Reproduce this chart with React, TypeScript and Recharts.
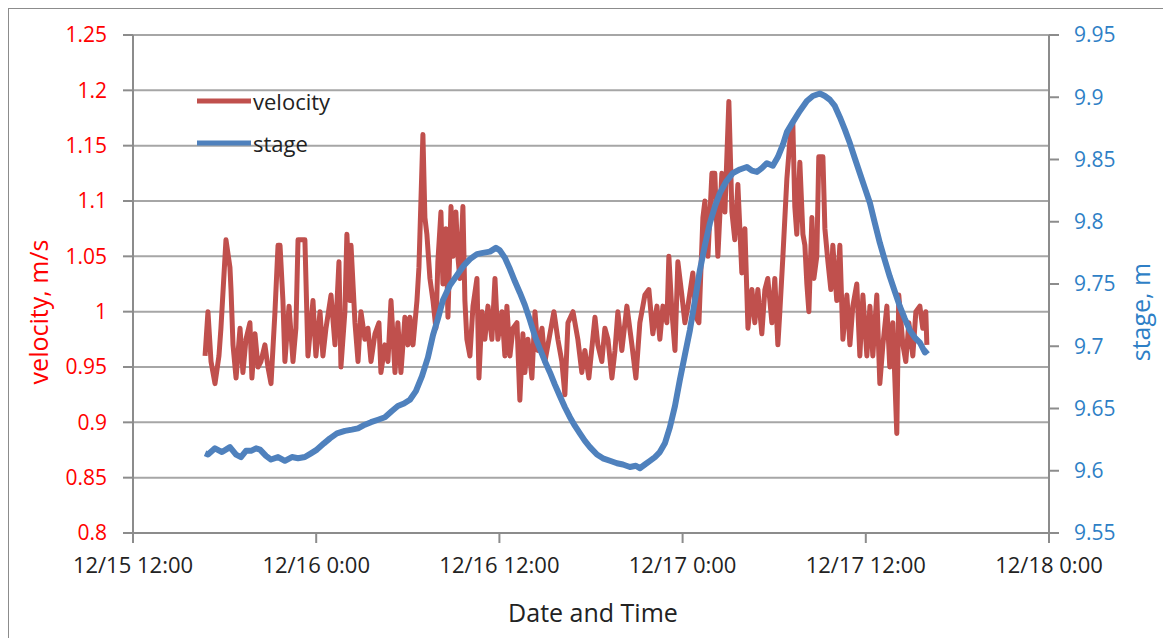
import { LineChart, Line, XAxis, YAxis, CartesianGrid, Legend, Label } from "recharts";

// x axis is hours since 12/15 12:00
const timeTicks = [0, 12, 24, 36, 48, 60];
const timeLabels = ["12/15 12:00", "12/16 0:00", "12/16 12:00", "12/17 0:00", "12/17 12:00", "12/18 0:00"];
const velocityTicks = [0.8, 0.85, 0.9, 0.95, 1, 1.05, 1.1, 1.15, 1.2, 1.25];
const stageTicks = [9.55, 9.6, 9.65, 9.7, 9.75, 9.8, 9.85, 9.9, 9.95];

const velocityHours = [
  4.72, 4.91, 5.11, 5.37, 5.63, 5.76, 6.09, 6.35, 6.42, 6.55, 6.75, 7.01, 7.2, 7.4, 7.66, 7.79, 7.99, 8.19, 8.38, 8.64,
  8.84, 9.04, 9.3, 9.5, 9.63, 9.82, 9.95, 10.22, 10.48, 10.67, 10.81, 11.07, 11.26, 11.46, 11.79, 11.98, 12.25, 12.44,
  12.64, 12.97, 13.23, 13.49, 13.62, 13.88, 14.01, 14.21, 14.28, 14.54, 14.74, 14.93, 15.19, 15.39, 15.59, 15.85, 16.11,
  16.24, 16.5, 16.7, 16.9, 17.16, 17.35, 17.55, 17.81, 18.01, 18.14, 18.34, 18.6, 18.73, 18.99, 19.12, 19.25, 19.45,
  19.65, 19.84, 19.97, 20.17, 20.3, 20.5, 20.63, 20.83, 20.96, 21.15, 21.28, 21.41, 21.61, 21.74, 21.87, 22.07, 22.27,
  22.53, 22.66, 22.86, 23.05, 23.25, 23.51, 23.71, 23.9, 24.17, 24.36, 24.49, 24.69, 24.89, 25.15, 25.34, 25.54, 25.67,
  25.87, 26.13, 26.33, 26.52, 26.79, 26.98, 27.18, 27.57, 27.83, 28.09, 28.29, 28.49, 28.82, 29.14, 29.4, 29.6, 29.86,
  30.26, 30.45, 30.71, 30.91, 31.11, 31.37, 31.57, 31.76, 32.02, 32.35, 32.68, 32.94, 33.2, 33.53, 33.79, 34.05, 34.32,
  34.51, 34.71, 34.97, 35.1, 35.3, 35.5, 35.69, 35.95, 36.15, 36.35, 36.67, 36.87, 37.07, 37.33, 37.46, 37.66, 37.92,
  38.11, 38.31, 38.57, 38.77, 39.03, 39.23, 39.42, 39.62, 39.88, 40.08, 40.28, 40.54, 40.73, 40.93, 41.19, 41.39, 41.58,
  41.85, 42.04, 42.24, 42.37, 42.57, 42.83, 43.03, 43.22, 43.35, 43.48, 43.68, 43.88, 44.01, 44.14, 44.27, 44.47, 44.6,
  44.79, 44.92, 45.19, 45.32, 45.52, 45.71, 45.84, 46.1, 46.3, 46.5, 46.76, 46.96, 47.15, 47.41, 47.61, 47.81, 48.07,
  48.27, 48.46, 48.72, 48.92, 49.12, 49.38, 49.57, 49.77, 50.03, 50.16, 50.43, 50.62, 50.82, 51.08, 51.28, 51.54, 51.73,
  51.93, 52.0,
];
const velocityValues = [
  0.96, 1.0, 0.955, 0.935, 0.96, 0.985, 1.065, 1.04, 1.02, 0.97, 0.94, 0.985, 0.945, 0.975, 0.99, 0.94, 0.98, 0.95, 0.955, 0.97,
  0.95, 0.935, 1.0, 1.06, 1.06, 1.01, 0.955, 1.005, 0.955, 0.985, 1.065, 1.065, 1.065, 0.96, 1.01, 0.96, 1.0, 0.96,
  0.985, 1.015, 0.97, 1.045, 0.95, 1.0, 1.07, 1.01, 1.06, 0.99, 0.955, 1.0, 0.975, 0.985, 0.955, 0.98, 0.99,
  0.945, 0.97, 0.955, 1.01, 0.945, 0.99, 0.945, 0.995, 0.97, 0.995, 0.97, 1.01, 1.04, 1.16, 1.085, 1.07, 1.03,
  1.01, 0.985, 1.045, 1.09, 1.025, 1.075, 0.995, 1.095, 1.05, 1.09, 1.05, 1.03, 1.095, 1.01, 0.975, 0.96, 1.005,
  1.03, 0.94, 1.0, 0.975, 1.005, 0.975, 1.03, 0.975, 1.0, 0.96, 1.005, 0.96, 0.985, 0.99, 0.92, 0.98, 0.945,
  0.975, 0.94, 1.0, 0.965, 0.985, 0.955, 0.97, 1.0, 0.975, 0.955, 0.925, 0.99, 1.0, 0.975, 0.945, 0.965, 0.94,
  0.995, 0.97, 0.955, 0.985, 0.975, 0.94, 0.965, 1.0, 0.965, 1.005, 0.97, 0.94, 0.99, 1.015, 1.02, 0.98, 1.005,
  0.975, 1.005, 0.99, 1.05, 1.0, 0.965, 1.045, 1.015, 0.99, 1.005, 1.035, 0.995, 0.99, 1.085, 1.1, 1.05, 1.125,
  1.125, 1.05, 1.125, 1.09, 1.19, 1.09, 1.065, 1.115, 1.035, 1.075, 0.985, 1.02, 0.99, 1.02, 0.98, 1.02, 1.03,
  0.99, 1.03, 0.97, 1.0, 1.05, 1.12, 1.155, 1.17, 1.095, 1.07, 1.135, 1.07, 1.06, 1.025, 1.0, 1.085, 1.03,
  1.05, 1.14, 1.14, 1.075, 1.045, 1.02, 1.06, 1.01, 1.06, 0.975, 1.015, 0.97, 1.005, 1.025, 0.96, 1.015, 0.96,
  1.005, 0.96, 1.015, 0.935, 0.97, 1.005, 0.95, 0.99, 0.89, 1.015, 0.97, 0.955, 0.99, 0.96, 1.0, 1.005, 0.985,
  1.0, 0.97,
];

const stageHours = [
  4.72, 4.91, 5.37, 5.83, 6.35, 6.75, 7.07, 7.4, 7.73, 8.06, 8.32, 8.71, 9.04, 9.5, 9.95, 10.41, 10.81, 11.26, 11.66,
  12.05, 12.51, 12.9, 13.36, 13.88, 14.34, 14.74, 15.19, 15.59, 16.05, 16.5, 16.96, 17.35, 17.75, 18.14, 18.53, 18.93,
  19.32, 19.65, 19.97, 20.3, 20.76, 21.22, 21.68, 22.07, 22.53, 22.92, 23.38, 23.77, 24.03, 24.36, 24.69, 25.02, 25.34,
  25.67, 26.0, 26.33, 26.65, 26.98, 27.31, 27.64, 27.96, 28.29, 28.62, 28.95, 29.27, 29.6, 29.93, 30.39, 30.78, 31.24,
  31.7, 32.09, 32.55, 32.94, 33.2, 33.53, 33.86, 34.19, 34.51, 34.84, 35.17, 35.5, 35.82, 36.15, 36.48, 36.81, 37.13,
  37.46, 37.79, 38.11, 38.44, 38.84, 39.29, 39.75, 40.21, 40.54, 40.87, 41.19, 41.52, 41.91, 42.24, 42.57, 42.83, 43.22,
  43.68, 44.14, 44.53, 44.99, 45.32, 45.65, 45.97, 46.3, 46.63, 46.96, 47.28, 47.61, 47.94, 48.27, 48.59, 48.92, 49.25,
  49.57, 49.9, 50.23, 50.56, 50.88, 51.21, 51.54, 51.87, 52.07,
];
const stageValues = [
  9.614, 9.613, 9.618, 9.615, 9.619, 9.613, 9.611, 9.616, 9.616, 9.618, 9.617, 9.612, 9.609, 9.611, 9.608, 9.611, 9.61,
  9.611, 9.614, 9.617, 9.622, 9.626, 9.63, 9.632, 9.633, 9.634, 9.637, 9.639, 9.641, 9.643, 9.648, 9.652, 9.654, 9.657,
  9.664, 9.676, 9.691, 9.709, 9.722, 9.737, 9.749, 9.757, 9.765, 9.77, 9.774, 9.775, 9.776, 9.779, 9.777, 9.771, 9.762,
  9.752, 9.743, 9.733, 9.721, 9.708, 9.698, 9.688, 9.679, 9.669, 9.66, 9.651, 9.643, 9.636, 9.63, 9.624, 9.619, 9.613,
  9.61, 9.608, 9.606, 9.605, 9.603, 9.604, 9.602, 9.605, 9.608, 9.611, 9.615, 9.622, 9.635, 9.652, 9.673, 9.693, 9.713,
  9.737, 9.761, 9.781, 9.799, 9.812, 9.823, 9.832, 9.839, 9.842, 9.844, 9.841, 9.84, 9.843, 9.847, 9.845, 9.852, 9.862,
  9.872, 9.88, 9.889, 9.897, 9.901, 9.903, 9.901, 9.898, 9.893, 9.884, 9.874, 9.863, 9.851, 9.839, 9.827, 9.815, 9.799,
  9.783, 9.769, 9.756, 9.744, 9.732, 9.722, 9.713, 9.707, 9.703, 9.695, 9.697,
];

const RED = "#C0504D";
const BLUE = "#4F81BD";
const AXIS = "#8C8C8C";
const FONT = "'Open Sans', sans-serif";

const velocity = velocityHours.map((h, i) => ({ h, v: velocityValues[i] }));
const stage = stageHours.map((h, i) => ({ h, s: stageValues[i] }));

function LegendBox() {
  const rows = [
    { name: "velocity", color: RED },
    { name: "stage", color: BLUE },
  ];
  return (
    <div style={{ fontFamily: FONT, fontSize: 22, color: "#222" }}>
      {rows.map((r) => (
        <div key={r.name} style={{ display: "flex", alignItems: "center", height: 42 }}>
          <svg width={54} height={8}>
            <line x1={0} y1={4} x2={54} y2={4} stroke={r.color} strokeWidth={5} />
          </svg>
          <span style={{ marginLeft: 2 }}>{r.name}</span>
        </div>
      ))}
    </div>
  );
}

export default function App() {
  return (
    <div style={{ position: "relative", width: 1172, height: 640, border: `1px solid ${AXIS}`, background: "#fff" }}>
      <style>{`body{overflow:hidden}`}</style>
      <LineChart width={1161} height={628} margin={{ top: 26, right: 0, bottom: 0, left: 0 }}>
        <CartesianGrid yAxisId="v" vertical={false} stroke="#A6A6A6" strokeWidth={2} />
        <XAxis
          dataKey="h"
          type="number"
          domain={[0, 60]}
          ticks={timeTicks}
          interval={0}
          tickFormatter={(t) => timeLabels[timeTicks.indexOf(t)]}
          height={104}
          axisLine={{ stroke: AXIS, strokeWidth: 2 }}
          tickLine={{ stroke: AXIS, strokeWidth: 2 }}
          tickSize={10}
          tickMargin={14}
          tick={{ fill: "#222", fontSize: 22, fontFamily: FONT }}
        >
          <Label
            content={({ viewBox }: any) => (
              <text x={viewBox.x + viewBox.width / 2 + 2} y={613} textAnchor="middle" fill="#222" fontSize={25} fontFamily={FONT}>
                Date and Time
              </text>
            )}
          />
        </XAxis>
        <YAxis
          yAxisId="v"
          domain={[0.8, 1.25]}
          ticks={velocityTicks}
          interval={0}
          width={124}
          axisLine={{ stroke: AXIS, strokeWidth: 2 }}
          tickLine={{ stroke: AXIS, strokeWidth: 2 }}
          tickSize={10}
          tickMargin={16}
          tick={{ fill: "#FF0000", fontSize: 21, fontFamily: FONT }}
        >
          <Label
            content={() => (
              <text x={29} y={303} transform="rotate(-90, 29, 303)" textAnchor="middle" dominantBaseline="central" fill="#FF0000" fontSize={25} fontFamily={FONT}>
                velocity, m/s
              </text>
            )}
          />
        </YAxis>
        <YAxis
          yAxisId="s"
          orientation="right"
          domain={[9.55, 9.95]}
          ticks={stageTicks}
          interval={0}
          width={121}
          axisLine={{ stroke: AXIS, strokeWidth: 2 }}
          tickLine={{ stroke: AXIS, strokeWidth: 2 }}
          tickSize={10}
          tickMargin={15}
          tick={{ fill: "#2E7FC6", fontSize: 21, fontFamily: FONT }}
        >
          <Label
            content={() => (
              <text x={1131} y={303} transform="rotate(-90, 1131, 303)" textAnchor="middle" dominantBaseline="central" fill="#2E7FC6" fontSize={25} fontFamily={FONT}>
                stage, m
              </text>
            )}
          />
        </YAxis>
        <Line yAxisId="v" data={velocity} dataKey="v" type="linear" stroke={RED} strokeWidth={5} strokeLinejoin="round" dot={false} isAnimationActive={false} />
        <Line yAxisId="s" data={stage} dataKey="s" type="linear" stroke={BLUE} strokeWidth={6} strokeLinejoin="round" dot={false} isAnimationActive={false} />
        <Legend
          layout="vertical"
          align="center"
          verticalAlign="middle"
          wrapperStyle={{ left: 188, top: 71, width: 180 }}
          content={() => <LegendBox />}
        />
      </LineChart>
    </div>
  );
}
